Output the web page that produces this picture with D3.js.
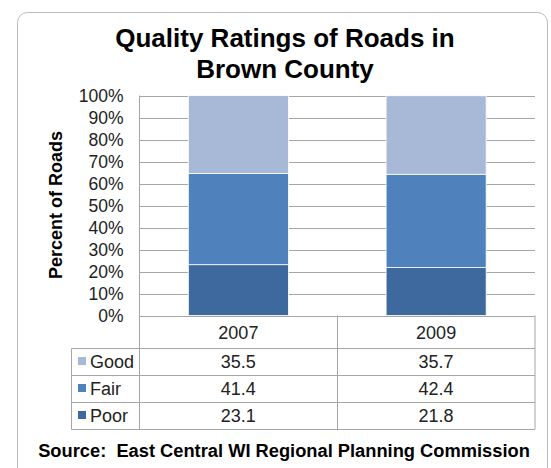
<!DOCTYPE html>
<html>
<head>
<meta charset="utf-8">
<script src="https://cdn.jsdelivr.net/npm/d3@7"></script>
<style>
  html, body { margin: 0; padding: 0; background: #fff; }
  svg { display: block; font-family: "Liberation Sans", Arial, sans-serif; }
</style>
</head>
<body>
<svg id="chart" width="551" height="468"></svg>
<script>
// ---- data ----
const years = ["2007", "2009"];
const seriesNames = ["Good", "Fair", "Poor"];
const goodValues = [35.5, 35.7];
const fairValues = [41.4, 42.4];
const poorValues = [23.1, 21.8];
const tickValues = [0, 10, 20, 30, 40, 50, 60, 70, 80, 90, 100];
const titleLines = ["Quality Ratings of Roads in", "Brown County"];
const yAxisTitle = "Percent of Roads";
const sourceText = "Source:\u00a0 East Central WI Regional Planning Commission";

(function () {
const colors = { Good: "#a8b9d8", Fair: "#4f81bd", Poor: "#3e699f" };
const valuesBySeries = { Good: goodValues, Fair: fairValues, Poor: poorValues };

const rows = years.map((yr, i) => ({ year: yr, Good: goodValues[i], Fair: fairValues[i], Poor: poorValues[i] }));

const svg = d3.select("#chart");
const gridColor = "#a6a6a6";

// frame
svg.append("rect")
  .attr("x", 17.5).attr("y", 12.5)
  .attr("width", 530).attr("height", 480)
  .attr("rx", 10).attr("ry", 10)
  .attr("fill", "#fff").attr("stroke", "#b8b8b8").attr("stroke-width", 1);

// title
svg.append("g").selectAll("text").data(titleLines).join("text")
  .attr("x", 285).attr("y", (d, i) => 47 + i * 31)
  .attr("text-anchor", "middle")
  .attr("font-size", 26).attr("font-weight", "bold").attr("fill", "#000")
  .text(d => d);

// scales
const pLeft = 139.5, pRight = 535, pTop = 95.5, pBottom = 315.5;
const x = d3.scaleBand().domain(years).range([pLeft, pRight]).paddingInner(0.494).paddingOuter(0.247);
const y = d3.scaleLinear().domain([0, 100]).range([pBottom, pTop]);

// gridlines
svg.append("g").selectAll("line").data(tickValues).join("line")
  .attr("x1", pLeft).attr("x2", pRight)
  .attr("y1", d => Math.round(y(d)) + 0.5).attr("y2", d => Math.round(y(d)) + 0.5)
  .attr("stroke", gridColor).attr("stroke-width", 1);

// bars
const stack = d3.stack().keys(["Poor", "Fair", "Good"]);
const stacked = stack(rows);
svg.append("g").selectAll("g").data(stacked).join("g")
  .attr("fill", d => colors[d.key])
  .selectAll("rect").data(d => d).join("rect")
  .attr("x", d => x(d.data.year))
  .attr("width", x.bandwidth())
  .attr("y", d => y(d[1]))
  .attr("height", d => y(d[0]) - y(d[1]))
  .attr("stroke", "#fff").attr("stroke-width", 0.8);

// y axis
const yAxis = d3.axisLeft(y).tickValues(tickValues).tickSize(0).tickPadding(16).tickFormat(d => d + "%");
const ya = svg.append("g").attr("transform", `translate(${pLeft},0)`).call(yAxis);
ya.select(".domain").remove();
ya.selectAll("text").attr("font-size", 17.5).attr("fill", "#222")
  .attr("font-family", "'Liberation Sans', Arial, sans-serif");

// y axis title
svg.append("text")
  .attr("transform", "translate(62,205) rotate(-90)")
  .attr("text-anchor", "middle")
  .attr("font-size", 18).attr("font-weight", "bold").attr("fill", "#000")
  .text(yAxisTitle);

// data table
const headerBottom = 348, rowH = 27;
const legendLeft = 71.5;
const tableBottom = headerBottom + rowH * seriesNames.length;
const mid = x(years[1]) - x.step() * x.paddingInner() / 2;
const colCenters = years.map(yr => x(yr) + x.bandwidth() / 2);

const tg = svg.append("g").attr("stroke", gridColor).attr("stroke-width", 1);
tg.append("line").attr("x1", pLeft).attr("x2", pLeft).attr("y1", pTop).attr("y2", tableBottom + 0.5);
[Math.round(mid) + 0.5, pRight].forEach(xx => {
  tg.append("line").attr("x1", xx).attr("x2", xx).attr("y1", pBottom).attr("y2", tableBottom + 0.5);
});
tg.append("line").attr("x1", legendLeft).attr("x2", legendLeft).attr("y1", headerBottom + 0.5).attr("y2", tableBottom + 0.5);
d3.range(seriesNames.length + 1).forEach(i => {
  const yy = headerBottom + i * rowH + 0.5;
  tg.append("line").attr("x1", legendLeft).attr("x2", pRight).attr("y1", yy).attr("y2", yy);
});

// header labels
svg.append("g").selectAll("text").data(years).join("text")
  .attr("x", (d, i) => colCenters[i]).attr("y", 339)
  .attr("text-anchor", "middle").attr("font-size", 18).attr("fill", "#222")
  .text(d => d);

// legend rows
seriesNames.forEach((s, r) => {
  const rowTop = headerBottom + r * rowH;
  svg.append("rect").attr("x", 78).attr("y", rowTop + 9).attr("width", 8).attr("height", 8)
    .attr("fill", colors[s]);
  svg.append("text").attr("x", 90).attr("y", rowTop + 19.5)
    .attr("font-size", 18).attr("fill", "#222").text(s);
  svg.append("g").selectAll("text").data(valuesBySeries[s]).join("text")
    .attr("x", (d, i) => colCenters[i]).attr("y", rowTop + 19.5)
    .attr("text-anchor", "middle").attr("font-size", 18).attr("fill", "#222")
    .text(d => d.toFixed(1));
});

// source
svg.append("text")
  .attr("x", 284).attr("y", 457)
  .attr("text-anchor", "middle")
  .attr("font-size", 18.3).attr("font-weight", "bold").attr("fill", "#000")
  .text(sourceText);
})();
</script>
</body>
</html>
